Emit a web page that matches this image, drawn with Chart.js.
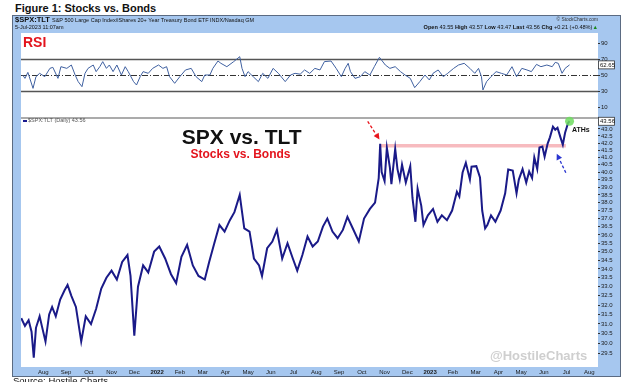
<!DOCTYPE html>
<html><head><meta charset="utf-8">
<script src="https://cdn.jsdelivr.net/npm/chart.js@4.4.1/dist/chart.umd.min.js"></script>
<style>
html,body{margin:0;padding:0;width:625px;height:382px;overflow:hidden;background:#fff;font-family:"Liberation Sans",Arial,sans-serif;}
.abs{position:absolute;white-space:nowrap;line-height:1;}
#frame{position:absolute;left:12px;top:15px;width:609px;height:362px;box-sizing:border-box;background:#a6c7ef;border:1px solid #5b6b82;}
#panel{position:absolute;left:21px;top:33px;width:577px;height:334px;background:#fff;}
#sep{position:absolute;left:21px;top:117px;width:577px;height:2px;background:#ababab;}
canvas{position:absolute;left:0;top:0;}
</style></head><body>
<div class="abs" style="left:15px;top:2.5px;font-size:11px;font-weight:bold;color:#111;">Figure 1: Stocks vs. Bonds</div>
<div id="frame"></div>
<div id="panel"></div>
<div id="sep"></div>
<canvas id="rsi" width="625" height="382"></canvas>
<canvas id="main" width="625" height="382"></canvas>
<div class="abs" style="left:15px;top:15.6px;font-size:7.5px;color:#111;"><b>$SPX:TLT</b> <span style="font-size:5.5px;">S&amp;P 500 Large Cap Index/iShares 20+ Year Treasury Bond ETF INDX/Nasdaq GM</span></div>
<div class="abs" style="left:15px;top:25px;font-size:5.5px;color:#111;">5-Jul-2023 11:07am</div>
<div class="abs" style="right:27px;top:17.5px;font-size:4.8px;color:#333;">© StockCharts.com</div>
<div class="abs" style="right:27px;top:25px;font-size:5.6px;color:#111;"><b>Open</b> 43.55 <b>High</b> 43.57 <b>Low</b> 43.47 <b>Last</b> 43.56 <b>Chg</b> +0.21 (+0.48%)<span style="color:#1a8a1a;">▲</span></div>
<div class="abs" style="left:23px;top:35px;font-size:14px;font-weight:bold;color:#e3141d;">RSI</div>
<div class="abs" style="left:23px;top:120px;width:4px;height:1.5px;background:#1b1b8e;"></div>
<div class="abs" style="left:28px;top:118.2px;font-size:5.5px;color:#555;">$SPX:TLT (Daily) 43.56</div>
<div class="abs" style="left:141.7px;width:200px;text-align:center;top:125.5px;font-size:21px;font-weight:bold;color:#111;">SPX vs. TLT</div>
<div class="abs" style="left:140.5px;width:200px;text-align:center;top:147.5px;font-size:12px;font-weight:bold;color:#e3141d;">Stocks vs. Bonds</div>
<div class="abs" style="left:572px;top:126px;font-size:7px;font-weight:bold;color:#111;">ATHs</div>
<div class="abs" style="left:490px;top:348.6px;font-size:13px;font-weight:bold;color:#cfcfcf;">@HostileCharts</div>
<div class="abs" style="left:13px;top:376px;font-size:9.5px;color:#111;">Source: Hostile Charts</div>
<script>
const monthLabels = ['Aug','Sep','Oct','Nov','Dec','2022','Feb','Mar','Apr','May','Jun','Jul','Aug','Sep','Oct','Nov','Dec','2023','Feb','Mar','Apr','May','Jun','Jul','Aug'];
const priceTicks = [29.5,30,30.5,31,31.5,32,32.5,33,33.5,34,34.5,35,35.5,36,36.5,37,37.5,38,38.5,39,39.5,40,40.5,41,41.5,42,42.5,43];
const rsiTicks = [10,30,50,70,90];
const rsiGuides = [30,50,70];

const spxTltDates = ['2021-07-02','2021-07-07','2021-07-12','2021-07-16','2021-07-19','2021-07-22','2021-07-27','2021-07-30','2021-08-04','2021-08-09','2021-08-13','2021-08-18','2021-08-24','2021-08-30','2021-09-03','2021-09-08','2021-09-14','2021-09-21','2021-09-27','2021-10-04','2021-10-11','2021-10-18','2021-10-25','2021-11-01','2021-11-08','2021-11-15','2021-11-22','2021-11-26','2021-12-01','2021-12-06','2021-12-13','2021-12-20','2021-12-28','2022-01-04','2022-01-12','2022-01-20','2022-01-27','2022-02-03','2022-02-10','2022-02-17','2022-02-24','2022-03-04','2022-03-10','2022-03-17','2022-03-24','2022-03-31','2022-04-07','2022-04-13','2022-04-20','2022-04-26','2022-05-03','2022-05-09','2022-05-16','2022-05-20','2022-05-27','2022-06-03','2022-06-09','2022-06-16','2022-06-23','2022-06-30','2022-07-06','2022-07-13','2022-07-20','2022-07-27','2022-08-03','2022-08-10','2022-08-16','2022-08-23','2022-08-30','2022-09-06','2022-09-12','2022-09-19','2022-09-27','2022-10-04','2022-10-12','2022-10-19','2022-10-24','2022-10-26','2022-10-28','2022-11-01','2022-11-04','2022-11-08','2022-11-10','2022-11-15','2022-11-18','2022-11-21','2022-11-24','2022-11-29','2022-12-05','2022-12-08','2022-12-12','2022-12-15','2022-12-20','2022-12-23','2022-12-29','2023-01-05','2023-01-11','2023-01-17','2023-01-24','2023-01-31','2023-02-06','2023-02-09','2023-02-13','2023-02-17','2023-02-22','2023-02-24','2023-03-02','2023-03-07','2023-03-10','2023-03-14','2023-03-17','2023-03-22','2023-03-28','2023-04-04','2023-04-10','2023-04-14','2023-04-20','2023-04-25','2023-04-28','2023-05-03','2023-05-08','2023-05-12','2023-05-16','2023-05-19','2023-05-23','2023-05-26','2023-05-30','2023-06-02','2023-06-06','2023-06-09','2023-06-13','2023-06-16','2023-06-19','2023-06-23','2023-06-26','2023-06-29','2023-07-03','2023-07-05'];
const spxTltValues = [31.3,30.9,31.2,30.6,29.3,30.8,31.4,30.9,30.1,31.5,31.9,31.4,32.3,32.8,33.1,32.5,31.9,30.1,31.4,31.0,31.8,32.9,33.5,33.9,33.4,34.4,34.8,33.6,30.4,33.0,34.2,33.8,35.0,35.3,34.6,33.7,33.2,34.7,35.4,34.2,33.6,33.4,34.4,35.5,36.6,36.2,36.9,37.4,38.5,36.4,36.2,34.6,34.2,33.6,35.2,35.6,36.3,34.6,35.5,34.6,33.9,34.8,35.9,35.3,35.6,36.5,37.0,36.2,35.8,36.3,37.1,36.4,35.6,37.0,37.6,38.0,39.6,41.95,40.0,39.4,41.66,40.3,39.2,41.59,40.2,39.5,40.5,39.3,40.4,38.3,36.8,38.9,37.8,36.6,37.2,37.6,36.8,37.2,36.9,37.5,38.7,38.4,39.97,40.63,39.5,40.37,40.4,39.64,37.5,36.4,36.6,37.2,36.8,37.5,38.6,40.17,40.1,38.6,39.5,40.2,39.3,40.04,39.6,40.99,40.2,41.68,41.75,41.05,41.96,42.4,43.17,42.95,43.09,42.38,41.88,42.73,43.44,43.56];

const rsiDates = ['2021-07-04','2021-07-07','2021-07-11','2021-07-18','2021-07-22','2021-07-27','2021-08-03','2021-08-10','2021-08-14','2021-08-21','2021-08-25','2021-09-02','2021-09-08','2021-09-13','2021-09-17','2021-09-22','2021-09-26','2021-09-30','2021-10-07','2021-10-11','2021-10-16','2021-10-20','2021-10-25','2021-10-29','2021-11-03','2021-11-08','2021-11-14','2021-11-19','2021-11-23','2021-11-30','2021-12-04','2021-12-09','2021-12-13','2021-12-20','2021-12-26','2022-01-03','2022-01-09','2022-01-14','2022-01-18','2022-01-25','2022-02-01','2022-02-08','2022-02-15','2022-02-21','2022-02-28','2022-03-04','2022-03-11','2022-03-15','2022-03-22','2022-03-26','2022-04-03','2022-04-12','2022-04-20','2022-04-23','2022-04-27','2022-05-01','2022-05-08','2022-05-15','2022-05-21','2022-05-28','2022-06-04','2022-06-11','2022-06-20','2022-06-27','2022-07-03','2022-07-10','2022-07-16','2022-07-23','2022-07-30','2022-08-06','2022-08-12','2022-08-21','2022-08-28','2022-09-04','2022-09-09','2022-09-13','2022-09-16','2022-09-22','2022-09-29','2022-10-05','2022-10-12','2022-10-18','2022-10-25','2022-11-02','2022-11-08','2022-11-15','2022-11-22','2022-11-28','2022-12-05','2022-12-11','2022-12-18','2022-12-25','2022-12-31','2023-01-05','2023-01-12','2023-01-19','2023-01-25','2023-02-02','2023-02-08','2023-02-15','2023-02-22','2023-02-28','2023-03-05','2023-03-09','2023-03-11','2023-03-16','2023-03-22','2023-03-29','2023-04-05','2023-04-12','2023-04-19','2023-04-25','2023-05-02','2023-05-09','2023-05-15','2023-05-22','2023-05-28','2023-06-05','2023-06-12','2023-06-16','2023-06-20','2023-06-25','2023-06-29','2023-07-05'];
const rsiValues = [50,45.8,53.3,33.3,47.9,52.1,47.9,58.3,59.6,45.8,60.4,58.3,62.5,50,41.7,35.4,52.1,58.3,62.5,54.2,60.4,66.7,58.3,62.5,54.2,62.5,50,60.4,54.2,41.7,37.5,47.9,54.2,52.1,58.3,62.5,58.3,60.4,47.9,39.6,47.9,56.3,58.3,47.9,41.7,50,50,58.3,67.5,64.6,60.4,66.7,72.9,58.3,47.9,54.2,47.9,41.7,52.1,45.8,58.3,52.1,41.7,50,52.1,51,56.3,52,58.3,56.3,66.7,67.5,58.3,47.9,58.3,64.6,54.2,45.8,47.9,54.2,50,60.4,72.1,62.5,58.3,60.4,54.2,50,45.8,34.2,41.7,50,43.8,52.1,56.3,47.9,52.1,58.3,62.5,64.6,58.3,52.1,58.3,47.9,31.3,41.7,47.9,54.2,52.1,50,60.4,47.9,58.3,56.3,54.2,63.3,60.4,62.5,60.4,65.8,64.6,52.1,58.3,62.65];

const resistanceLevel = 41.8;
const resistanceStart = '2022-10-26';
const resistanceEnd = '2023-06-30';
const redArrow = {from:['2022-10-09',43.55], to:['2022-10-25',42.25]};
const blueArrow = {from:['2023-06-30',39.95], to:['2023-06-18',41.25]};

function monthPos(s){
  const p = s.split('-').map(Number);
  const dim = new Date(p[0], p[1], 0).getDate();
  return (p[0]-2021)*12 + (p[1]-7) + (p[2]-1)/dim;
}
const mainPts = spxTltDates.map((d,i)=>({x:monthPos(d), y:spxTltValues[i]}));
const rsiPts = rsiDates.map((d,i)=>({x:monthPos(d), y:rsiValues[i]}));
const X_MIN = 0.02, X_MAX = 25.38;
const FAM = '"Liberation Sans", Arial, sans-serif';

function drawArrow(ctx, x0, y0, x1, y1, color){
  ctx.save();
  ctx.strokeStyle = color; ctx.fillStyle = color; ctx.lineWidth = 1.3;
  const a = Math.atan2(y1-y0, x1-x0), hl = 6, hw = 3;
  const bx = x1 - hl*Math.cos(a), by = y1 - hl*Math.sin(a);
  ctx.setLineDash([3,2]);
  ctx.beginPath(); ctx.moveTo(x0,y0); ctx.lineTo(bx,by); ctx.stroke();
  ctx.setLineDash([]);
  ctx.beginPath(); ctx.moveTo(x1,y1);
  ctx.lineTo(bx + hw*Math.sin(a), by - hw*Math.cos(a));
  ctx.lineTo(bx - hw*Math.sin(a), by + hw*Math.cos(a));
  ctx.closePath(); ctx.fill();
  ctx.restore();
}
function valueBox(ctx, x, y, txt){
  ctx.save();
  ctx.font = '6px ' + FAM;
  ctx.fillStyle = '#fff'; ctx.strokeStyle = '#333'; ctx.lineWidth = 0.8;
  ctx.fillRect(x+0.5, y-4, 16, 8); ctx.strokeRect(x+0.5, y-4, 16, 8);
  ctx.fillStyle = '#111'; ctx.textAlign = 'left'; ctx.textBaseline = 'middle';
  ctx.fillText(txt, x+2, y+0.5);
  ctx.restore();
}

const mainDecor = {
  id:'mainDecor',
  beforeDatasetsDraw(chart){
    const {ctx, scales:{x, y}} = chart;
    ctx.save();
    ctx.strokeStyle = 'rgba(242,150,156,0.65)'; ctx.lineWidth = 3.5;
    const yy = y.getPixelForValue(resistanceLevel);
    ctx.beginPath();
    ctx.moveTo(x.getPixelForValue(monthPos(resistanceStart)), yy);
    ctx.lineTo(x.getPixelForValue(monthPos(resistanceEnd)), yy);
    ctx.stroke();
    ctx.restore();
  },
  afterDatasetsDraw(chart){
    const {ctx, scales:{x, y}} = chart;
    const P = (p)=>[x.getPixelForValue(monthPos(p[0])), y.getPixelForValue(p[1])];
    let a = P(redArrow.from), b = P(redArrow.to);
    drawArrow(ctx, a[0], a[1], b[0], b[1], '#e8141c');
    a = P(blueArrow.from); b = P(blueArrow.to);
    drawArrow(ctx, a[0], a[1], b[0], b[1], '#2a35d0');
    const last = mainPts[mainPts.length-1];
    ctx.save();
    ctx.fillStyle = 'rgba(110,220,95,0.85)';
    ctx.beginPath(); ctx.arc(x.getPixelForValue(last.x), y.getPixelForValue(last.y), 4.5, 0, Math.PI*2); ctx.fill();
    ctx.restore();
  },
  afterDraw(chart){
    const {ctx, chartArea, scales:{y}} = chart;
    const last = spxTltValues[spxTltValues.length-1];
    valueBox(ctx, chartArea.right, y.getPixelForValue(last), last.toFixed(2));
  }
};

const rsiDecor = {
  id:'rsiDecor',
  beforeDatasetsDraw(chart){
    const {ctx, chartArea, scales:{y}} = chart;
    ctx.save();
    rsiGuides.forEach(v=>{
      const yy = Math.round(y.getPixelForValue(v)) + 0.5;
      ctx.strokeStyle = v===50 ? '#333' : '#555';
      ctx.lineWidth = v===50 ? 1 : 1.3;
      ctx.setLineDash(v===50 ? [6,2,1,2] : []);
      ctx.beginPath(); ctx.moveTo(chartArea.left, yy); ctx.lineTo(chartArea.right, yy); ctx.stroke();
    });
    ctx.restore();
  },
  afterDraw(chart){
    const {ctx, chartArea, scales:{y}} = chart;
    const last = rsiValues[rsiValues.length-1];
    valueBox(ctx, chartArea.right, y.getPixelForValue(last), last.toFixed(2));
  }
};

new Chart(document.getElementById('rsi'), {
  type:'line',
  data:{datasets:[{data:rsiPts, borderColor:'#3f60a0', borderWidth:1, pointRadius:0, tension:0}]},
  options:{
    responsive:false, animation:false, devicePixelRatio:1,
    layout:{padding:{left:21, top:33, right:0, bottom:264}},
    plugins:{legend:{display:false}, tooltip:{enabled:false}},
    scales:{
      x:{type:'linear', min:X_MIN, max:X_MAX, bounds:'data', display:false},
      y:{type:'linear', position:'right', min:-3.75, max:102.5, bounds:'data',
         afterBuildTicks:s=>{ s.ticks = rsiTicks.map(v=>({value:v})); },
         afterFit:s=>{ s.width = 27; },
         ticks:{autoSkip:false, padding:1, color:'#1a1a1a', font:{family:FAM, size:6}, callback:v=>String(v)},
         grid:{drawOnChartArea:false, drawTicks:true, tickLength:2, color:'#333'},
         border:{display:false}}
    }
  },
  plugins:[rsiDecor]
});

new Chart(document.getElementById('main'), {
  type:'line',
  data:{datasets:[{data:mainPts, borderColor:'#1a1a88', borderWidth:2, pointRadius:0, tension:0}]},
  options:{
    responsive:false, animation:false, devicePixelRatio:1,
    layout:{padding:{left:21, top:118, right:0, bottom:0}},
    plugins:{legend:{display:false}, tooltip:{enabled:false}},
    scales:{
      x:{type:'linear', min:X_MIN, max:X_MAX, bounds:'data',
         afterBuildTicks:s=>{ s.ticks = monthLabels.map((_,i)=>({value:i+1})); },
         afterFit:s=>{ s.height = 15; },
         ticks:{autoSkip:false, maxRotation:0, minRotation:0, padding:2, color:'#1a1a1a',
                font:(c)=>({family:FAM, size:6, weight: /^\d{4}$/.test(monthLabels[c.index]||'') ? 'bold' : 'normal'}),
                callback:(v,i)=>monthLabels[i]},
         grid:{display:false, drawTicks:false}, border:{display:false}},
      y:{type:'logarithmic', position:'right', min:28.84, max:43.80, bounds:'data',
         afterBuildTicks:s=>{ s.ticks = priceTicks.map(v=>({value:v})); },
         afterFit:s=>{ s.width = 27; },
         ticks:{autoSkip:false, padding:1, color:'#1a1a1a', font:{family:FAM, size:6}, callback:v=>Number(v).toFixed(1)},
         grid:{drawOnChartArea:false, drawTicks:true, tickLength:2, color:'#333'},
         border:{display:false}}
    }
  },
  plugins:[mainDecor]
});
</script>
</body></html>
